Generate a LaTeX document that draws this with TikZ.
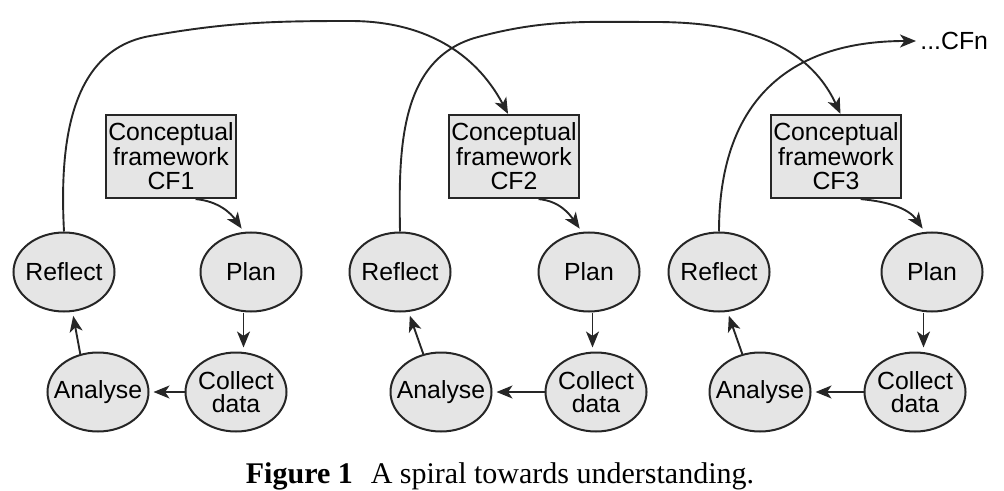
\documentclass[tikz,border=0pt]{standalone}
\usepackage{fontspec}
\setmainfont{Liberation Serif}
\setsansfont{Liberation Sans}
\usetikzlibrary{shapes.geometric,arrows.meta,calc}
\tikzset{
  phase/.style={ellipse,draw=black!85,fill=black!10,line width=1pt,
    minimum width=50.5pt,minimum height=39.5pt,inner xsep=-6pt,inner ysep=-4pt,
    align=center,font=\sffamily\fontsize{12.4}{11.6}\selectfont},
  frame/.style={rectangle,draw=black!85,fill=black!10,line width=1.1pt,
    minimum width=65pt,minimum height=41.5pt,inner sep=0pt,
    align=center,font=\sffamily\fontsize{12.4}{12.25}\selectfont},
  link/.style={-{Stealth[length=8pt,width=6.5pt,inset=2.2pt]},line width=0.95pt,draw=black!85},
  step link/.style={link,shorten >=2pt},
}
\begin{document}
\begin{tikzpicture}[x=0.5pt,y=0.5pt]
    \useasboundingbox (0,0) rectangle (1004,-491);
    \foreach \i/\r/\p/\a/\c/\f in {1/64/251/98/236/171,2/400/589/441/596/514,3/719/932/760/915/836} {
        \node[frame] (F\i) at (\f,-156.5) {Conceptual\\framework\\CF\i};
        \node[phase] (R\i) at (\r,-272) {Reflect};
        \node[phase] (P\i) at (\p,-272) {Plan};
        \node[phase] (A\i) at (\a,-392) {Analyse};
        \node[phase] (C\i) at (\c,-392) {Collect\\data};
        \coordinate (m\i) at ($(P\i)!0.5!(C\i)$);
        \draw[step link] (F\i.-60) to[out=-5,in=125] (P\i.100);
        \draw[step link] (m\i |- P\i.south) -- (m\i |- C\i.north);
        \draw[step link] (C\i.west) -- (A\i.east);
        \draw[step link] (A\i.115) -- (R\i.-78);
      }
    \node[font=\sffamily\fontsize{12.4}{12.25}\selectfont,anchor=west,inner sep=2pt] (n) at (916,-41) {...CFn};
    % spiral from one framework to the next
    \draw[link] (R1.north) to[out=93,in=190] (150,-36) to[out=10,in=180] (350,-21)
        to[out=0,in=118] (F2.98);
    \draw[link] (R2.north) to[out=91,in=195] (478,-37) to[out=15,in=180] (655,-22)
        to[out=0,in=115] (F3.84);
    \draw[link] (R3.north) to[out=90,in=180,looseness=1.2] (n.west);
    \node[font=\fontsize{15}{18}\selectfont,anchor=base] (cap) at (500,-483)
        {\textbf{Figure 1}\hspace{0.35em} A spiral towards understanding.};
  \end{tikzpicture}
\end{document}
